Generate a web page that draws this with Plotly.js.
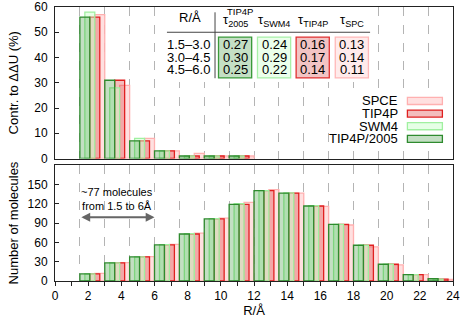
<!DOCTYPE html>
<html>
<head>
<meta charset="utf-8">
<script src="https://cdn.plot.ly/plotly-3.0.1.min.js"></script>
<style>
  body { margin: 0; background: #fff; }
  #chart { width: 463px; height: 324px; }
</style>
</head>
<body>
<div id="chart"></div>
<script>
// bins of 1.5 Å, each value
const binStarts = [1.5, 3, 4.5, 6, 7.5, 9, 10.5, 12, 13.5, 15, 16.5, 18, 19.5, 21, 22.5];
const contrBins = [1.5, 3, 4.5, 6, 7.5, 9, 10.5];

// contribution to ddU (%)
const contrSPCE = [57, 29, 8, 3, 2, 1, 1];
const contrTIP4P = [56, 31, 7, 3, 1, 1, 1];
const contrSWM4 = [58, 28, 8, 3, 1, 1, 1];
const contrTIP4P2005 = [56, 31, 7, 3, 1, 1, 1];

// number of molecules per bin
const countSPCE = [12, 28.5, 38, 57, 74.5, 97.5, 122, 142, 136.5, 116, 87, 53, 25, 10, 2.5];
const countTIP4P = [11, 28, 37.5, 56, 73, 96.5, 119, 140.5, 136.5, 116.5, 88, 55.5, 26, 10, 3];
const countSWM4 = [11, 28, 37.5, 56.5, 73.5, 97, 120, 140.5, 137, 117, 88, 55.5, 26, 10, 3];
const countTIP4P2005 = [11, 28, 37.5, 56, 73, 96.5, 119, 140.5, 136.5, 116.5, 88, 55.5, 26, 10, 3.5];

// tau table
const tableRanges = ["1.5\u20133.0", "3.0\u20134.5", "4.5\u20136.0"];
const tauTIP4P2005 = ["0.27", "0.30", "0.25"];
const tauSWM4 = ["0.24", "0.29", "0.22"];
const tauTIP4P = ["0.16", "0.17", "0.14"];
const tauSPC = ["0.13", "0.14", "0.11"];

const FONT = "Liberation Sans, Arial, sans-serif";

const models = [
  { name: "SPCE", contr: contrSPCE, count: countSPCE, offset: 0.9,
    fill: "rgba(255,160,160,0.32)", line: "#ffb0b0" },
  { name: "TIP4P", contr: contrTIP4P, count: countTIP4P, offset: 0.6,
    fill: "rgba(215,40,40,0.30)", line: "#e02020" },
  { name: "SWM4", contr: contrSWM4, count: countSWM4, offset: 0.3,
    fill: "rgba(200,255,200,0.45)", line: "#a0f0a0" },
  { name: "TIP4P/2005", contr: contrTIP4P2005, count: countTIP4P2005, offset: 0,
    fill: "rgba(40,140,40,0.28)", line: "#2e8b2e" },
];

const traces = [];
models.forEach((m, k) => {
  traces.push({
    type: "bar", x: contrBins, y: m.contr, offset: m.offset, width: 0.6,
    xaxis: "x", yaxis: "y", name: m.name, showlegend: false,
    marker: { color: m.fill, line: { color: m.line, width: 1.3 } },
  });
  // backmost series sits on the grid axis, the rest on the labelled overlay
  traces.push({
    type: "bar", x: binStarts, y: m.count, offset: m.offset, width: 0.6,
    xaxis: k === 0 ? "x2" : "x3", yaxis: "y2", name: m.name, showlegend: false,
    marker: { color: m.fill, line: { color: m.line, width: 1.3 } },
  });
});

const shapes = [];
const annotations = [];

// white backgrounds behind table and key
shapes.push({ type: "rect", xref: "x", yref: "y", x0: 6.6, x1: 19.3, y0: 30.3, y1: 60,
  fillcolor: "#fff", line: { width: 0 }, layer: "above" });
shapes.push({ type: "rect", xref: "x", yref: "y", x0: 16.6, x1: 23.97, y0: 4.3, y1: 27,
  fillcolor: "#fff", line: { width: 0 }, layer: "above" });

// table rules
shapes.push({ type: "line", xref: "x", yref: "y", x0: 6.75, x1: 19.0, y0: 50, y1: 50,
  line: { color: "#444", width: 1 }, layer: "above" });
shapes.push({ type: "line", xref: "x", yref: "y", x0: 9.65, x1: 9.65, y0: 31.8, y1: 57.9,
  line: { color: "#444", width: 1 }, layer: "above" });

annotations.push({ xref: "x", yref: "y", x: 8.14, y: 55.7, text: "R/\u00c5", showarrow: false,
  font: { size: 13 } });

const rowY = [45.2, 39.9, 35.2];
tableRanges.forEach((t, i) => {
  annotations.push({ xref: "x", yref: "y", x: 8.02, y: rowY[i], text: t, showarrow: false,
    font: { size: 13 } });
});

const columns = [
  { head: "\u03c4<sub>2005</sub>", vals: tauTIP4P2005, x: 10.86, fill: "#c4dfc4", line: "#3a9a3a" },
  { head: "\u03c4<sub>SWM4</sub>", vals: tauSWM4, x: 13.21, fill: "#ebffeb", line: "#a8f0a8" },
  { head: "\u03c4<sub>TIP4P</sub>", vals: tauTIP4P, x: 15.54, fill: "#f2c4c4", line: "#e03030" },
  { head: "\u03c4<sub>SPC</sub>", vals: tauSPC, x: 17.9, fill: "#ffebeb", line: "#ffb8b8" },
];
columns.forEach((c) => {
  shapes.push({ type: "rect", xref: "x", yref: "y", x0: c.x - 1.0, x1: c.x + 1.0, y0: 31.9, y1: 48.1,
    fillcolor: c.fill, line: { color: c.line, width: 1.3 }, layer: "above" });
  annotations.push({ xref: "x", yref: "y", x: c.x, y: 54.6, text: c.head, showarrow: false,
    font: { size: 13 } });
  c.vals.forEach((v, i) => {
    annotations.push({ xref: "x", yref: "y", x: c.x, y: rowY[i], text: v, showarrow: false,
      font: { size: 13 } });
  });
});
annotations.push({ xref: "x", yref: "y", x: 11.15, y: 58.2, text: "TIP4P", showarrow: false,
  font: { size: 9.5 } });

// key, text on the left, swatch on the right
models.forEach((m, i) => {
  const y = 22.8 - i * 5.0;
  annotations.push({ xref: "x", yref: "y", x: 20.8, y: y, xanchor: "right", text: m.name,
    showarrow: false, font: { size: 13 } });
  shapes.push({ type: "rect", xref: "x", yref: "y", x0: 21.25, x1: 23.36, y0: y - 1.4, y1: y + 1.4,
    fillcolor: m.fill, line: { color: m.line, width: 1.3 }, layer: "above" });
});

// molecule count note with double arrow
annotations.push({ xref: "x3", yref: "y2", x: 3.75, y: 127, text: "~77 molecules<br>from 1.5 to 6\u00c5",
  showarrow: false, font: { size: 11 } });
annotations.push({ xref: "x3", yref: "y2", x: 6, y: 99, ax: 1.5, ay: 99, axref: "x3", ayref: "y2",
  text: "", showarrow: true, arrowside: "end+start", arrowhead: 2, arrowsize: 0.8,
  arrowwidth: 2.2, arrowcolor: "#666" });

const frame = { showline: true, mirror: true, linecolor: "#222", linewidth: 1, zeroline: false };
const dashedGrid = {
  range: [0, 24], tick0: 0, dtick: 1.5, showgrid: true, gridcolor: "#b4b4b4",
  griddash: "dash", gridwidth: 1, showticklabels: false, ticks: "",
};

const layout = {
  width: 463, height: 324,
  margin: { t: 7, l: 55, r: 10, b: 43 },
  font: { family: FONT, size: 12, color: "#000" },
  paper_bgcolor: "#fff", plot_bgcolor: "rgba(0,0,0,0)",
  barmode: "overlay", showlegend: false,
  xaxis: Object.assign({ anchor: "y" }, dashedGrid, frame),
  yaxis: Object.assign({
    domain: [0.447, 1], range: [0, 60], dtick: 10, ticks: "inside", ticklen: 4,
    tickcolor: "#222", showgrid: false, ticklabelstandoff: 4,
    title: { text: "Contr. to \u0394\u0394U (%)", font: { size: 13 }, standoff: 12 },
  }, frame),
  xaxis2: Object.assign({ anchor: "y2" }, dashedGrid, frame),
  xaxis3: {
    overlaying: "x2", anchor: "y2", range: [0, 24], dtick: 2, ticks: "outside", ticklen: 4,
    tickcolor: "#222", minor: { dtick: 1, ticks: "outside", ticklen: 4, tickcolor: "#222" },
    showgrid: false, zeroline: false, showline: false,
    title: { text: "R/\u00c5", font: { size: 13 }, standoff: 2 },
  },
  yaxis2: Object.assign({
    domain: [0, 0.423], range: [0, 180], tickvals: [0, 30, 60, 90, 120, 150], ticks: "inside",
    ticklen: 4, tickcolor: "#222", showgrid: false, ticklabelstandoff: 4,
    title: { text: "Number of molecules", font: { size: 13 }, standoff: 6 },
  }, frame),
  shapes: shapes,
  annotations: annotations,
};

Plotly.newPlot("chart", traces, layout, { displayModeBar: false, staticPlot: true });
</script>
</body>
</html>
